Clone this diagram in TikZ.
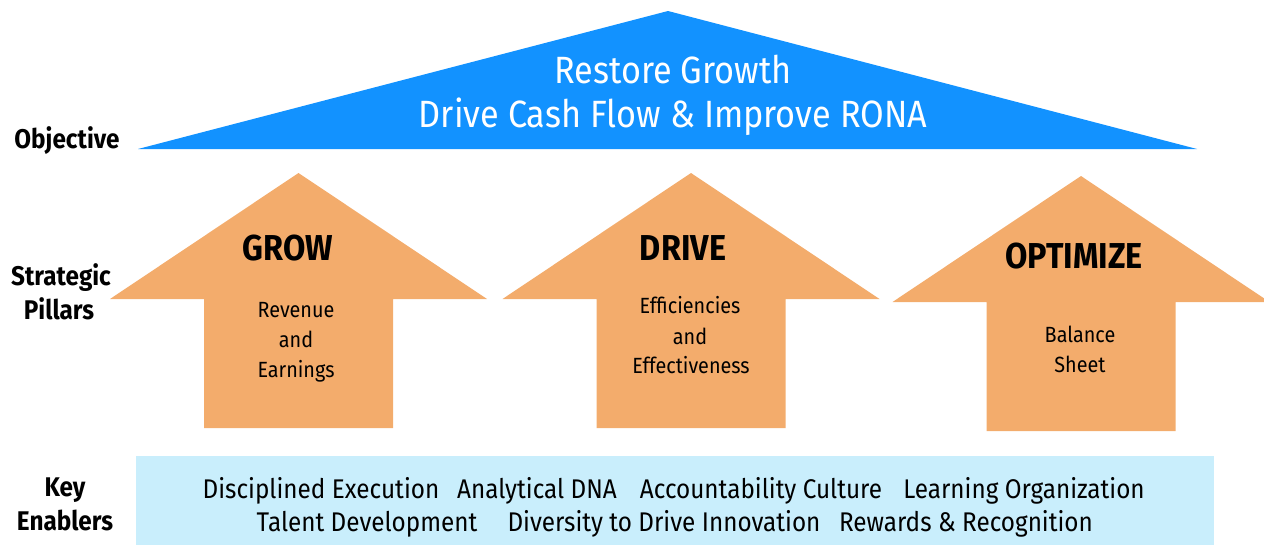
\documentclass[tikz,border=0pt]{standalone}
\usepackage{fontspec}
\setmainfont{Fira Sans}[FakeStretch=0.9]
\definecolor{objblue}{RGB}{18,146,255}
\definecolor{pillarorange}{RGB}{243,172,108}
\definecolor{bandblue}{RGB}{201,238,252}
\begin{document}
\begin{tikzpicture}[x=1pt,y=-1pt,
  lbl/.style={font=\fontsize{27}{27}\selectfont\bfseries, anchor=base, inner sep=0pt},
  ttl/.style={font=\fontsize{38}{38}\selectfont, text=white, anchor=base, inner sep=0pt},
  head/.style={font=\fontsize{36}{36}\selectfont\bfseries, anchor=base, inner sep=0pt},
  sub/.style={font=\fontsize{22}{22}\selectfont, anchor=base, inner sep=0pt},
  enab/.style={font=\fontsize{27}{27}\selectfont, anchor=base, inner sep=0pt},
  pillar/.pic={\fill[pillarorange] (0,0) -- (188.5,126) -- (94.5,126) -- (94.5,255)
     -- (-94.5,255) -- (-94.5,126) -- (-188.5,126) -- cycle;}]
\useasboundingbox (0,0) rectangle (1264,546);
\clip (0,0) rectangle (1264,546);
% objective roof
\fill[objblue] (668,11) -- (1197,149) -- (138,149) -- cycle;
\node[ttl] (t1) at (673,83) {Restore Growth};
\node[ttl] (t2) at (673,127) {Drive Cash Flow \& Improve RONA};
% pillars
\pic at (298.5,173) {pillar};
\pic at (691,173) {pillar};
\pic at (1081,176) {pillar};
\node[head] (grow) at (288,260) {GROW};
\node[sub] (g1) at (296,317) {Revenue};
\node[sub] (g2) at (296,347) {and};
\node[sub] (g3) at (296,377) {Earnings};
\node[head] (drive) at (683,260) {DRIVE};
\node[sub] (d1) at (690,313) {Efficiencies};
\node[sub] (d2) at (690,344) {and};
\node[sub] (d3) at (691,373) {Effectiveness};
\node[head] (opt) at (1074,268) {OPTIMIZE};
\node[sub] (o1) at (1080,342) {Balance};
\node[sub] (o2) at (1080,372) {Sheet};
% enablers band
\fill[bandblue] (136,456) rectangle (1214,545);
\node[enab] (e1) at (321,498) {Disciplined Execution};
\node[enab] (e2) at (537,498) {Analytical DNA};
\node[enab] (e3) at (761,498) {Accountability Culture};
\node[enab] (e4) at (1024,498) {Learning Organization};
\node[enab] (e5) at (367,531) {Talent Development};
\node[enab] (e6) at (664,531) {Diversity to Drive Innovation};
\node[enab] (e7) at (966,531) {Rewards \& Recognition};
% row labels
\node[lbl] (l1) at (67,148) {Objective};
\node[lbl] (l2) at (61,285) {Strategic};
\node[lbl] (l3) at (59,319) {Pillars};
\node[lbl] (l4) at (65,496) {Key};
\node[lbl] (l5) at (65,530) {Enablers};
\end{tikzpicture}
\end{document}
